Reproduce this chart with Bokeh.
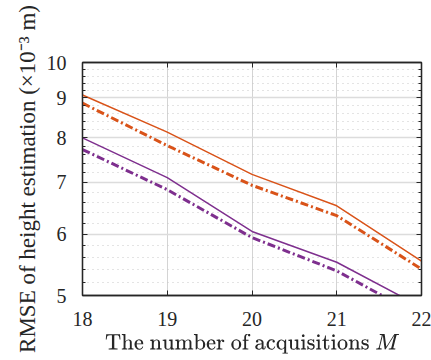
from bokeh.plotting import figure
from bokeh.models import FixedTicker, LinearAxis, LogAxis, Range1d, CustomJSTickFormatter
from bokeh.embed import file_html
from bokeh.resources import INLINE

M = [18, 19, 20, 21, 22]
orange_solid = [9.08, 8.13, 7.17, 6.53, 5.54]
orange_dashdot = [8.86, 7.81, 6.94, 6.34, 5.41]
purple_solid = [7.99, 7.10, 6.05, 5.52, 4.83]
purple_dashdot = [7.72, 6.85, 5.94, 5.38, 4.69]
y_ticks = [5, 6, 7, 8, 9, 10]
y_minor = [5.2, 5.4, 5.6, 5.8, 6.2, 6.4, 6.6, 6.8, 7.2, 7.4, 7.6, 7.8,
           8.2, 8.4, 8.6, 8.8, 9.2, 9.4, 9.6, 9.8]
x_label = r"The number of acquisitions $$M$$"
y_label = "RMSE of height estimation (×10⁻³ m)"

FONT = "Liberation Serif"
ORANGE = "#D95319"
PURPLE = "#7E2F8E"
EDGE = "#262626"
TXT = "#262626"

p = figure(width=431, height=360, output_backend="svg", toolbar_location=None,
           y_axis_type="log", x_range=Range1d(M[0], M[-1]),
           y_range=Range1d(y_ticks[0], y_ticks[-1]),
           min_border_left=82, min_border_right=10, min_border_top=62,
           min_border_bottom=65)
p.background_fill_color = "white"
p.border_fill_color = "white"
p.outline_line_color = EDGE
p.outline_line_width = 1.3

xt = FixedTicker(ticks=M)
yt = FixedTicker(ticks=y_ticks, minor_ticks=y_minor)

def style(ax, labels=True):
    ax.axis_line_color = EDGE
    ax.axis_line_width = 1.3
    ax.major_tick_in = 5
    ax.major_tick_out = 0
    ax.minor_tick_in = 3
    ax.minor_tick_out = 0
    ax.major_tick_line_color = EDGE
    ax.minor_tick_line_color = EDGE
    ax.major_label_text_font = FONT
    ax.major_label_text_font_size = "20px"
    ax.major_label_text_color = TXT
    ax.axis_label_text_font = FONT
    ax.axis_label_text_font_size = "21px"
    ax.axis_label_text_font_style = "normal"
    ax.axis_label_text_color = TXT
    if not labels:
        ax.major_label_text_font_size = "0px"
        ax.major_label_text_color = None

xa = p.xaxis[0]
xa.ticker = xt
style(xa)
xa.major_label_standoff = 16
xa.axis_label = x_label
xa.axis_label_standoff = 5

ya = p.yaxis[0]
ya.ticker = yt
style(ya)
ya.major_label_standoff = 16
ya.axis_label = y_label
ya.axis_label_text_font_size = "23px"
ya.axis_label_standoff = 4
ya.formatter = CustomJSTickFormatter(code="return tick.toFixed(0);")

top = LinearAxis(ticker=xt)
style(top, labels=False)
p.add_layout(top, "above")
right = LogAxis(ticker=yt)
style(right, labels=False)
p.add_layout(right, "right")

p.xgrid.ticker = xt
p.xgrid.grid_line_color = "#d4d4d4"
p.xgrid.grid_line_width = 1
p.ygrid.ticker = yt
p.ygrid.grid_line_color = "#dcdcdc"
p.ygrid.grid_line_width = 1.5
p.ygrid.minor_grid_line_color = "#c8c8c8"
p.ygrid.minor_grid_line_dash = "1 4"
p.ygrid.minor_grid_line_width = 1

p.line(M, orange_solid, line_color=ORANGE, line_width=1.5)
p.line(M, orange_dashdot, line_color=ORANGE, line_width=3, line_dash="8 3 2 3")
p.line(M, purple_solid, line_color=PURPLE, line_width=1.5)
p.line(M, purple_dashdot, line_color=PURPLE, line_width=3, line_dash="8 3 2 3")

open("out.html", "w").write(file_html(p, INLINE))
